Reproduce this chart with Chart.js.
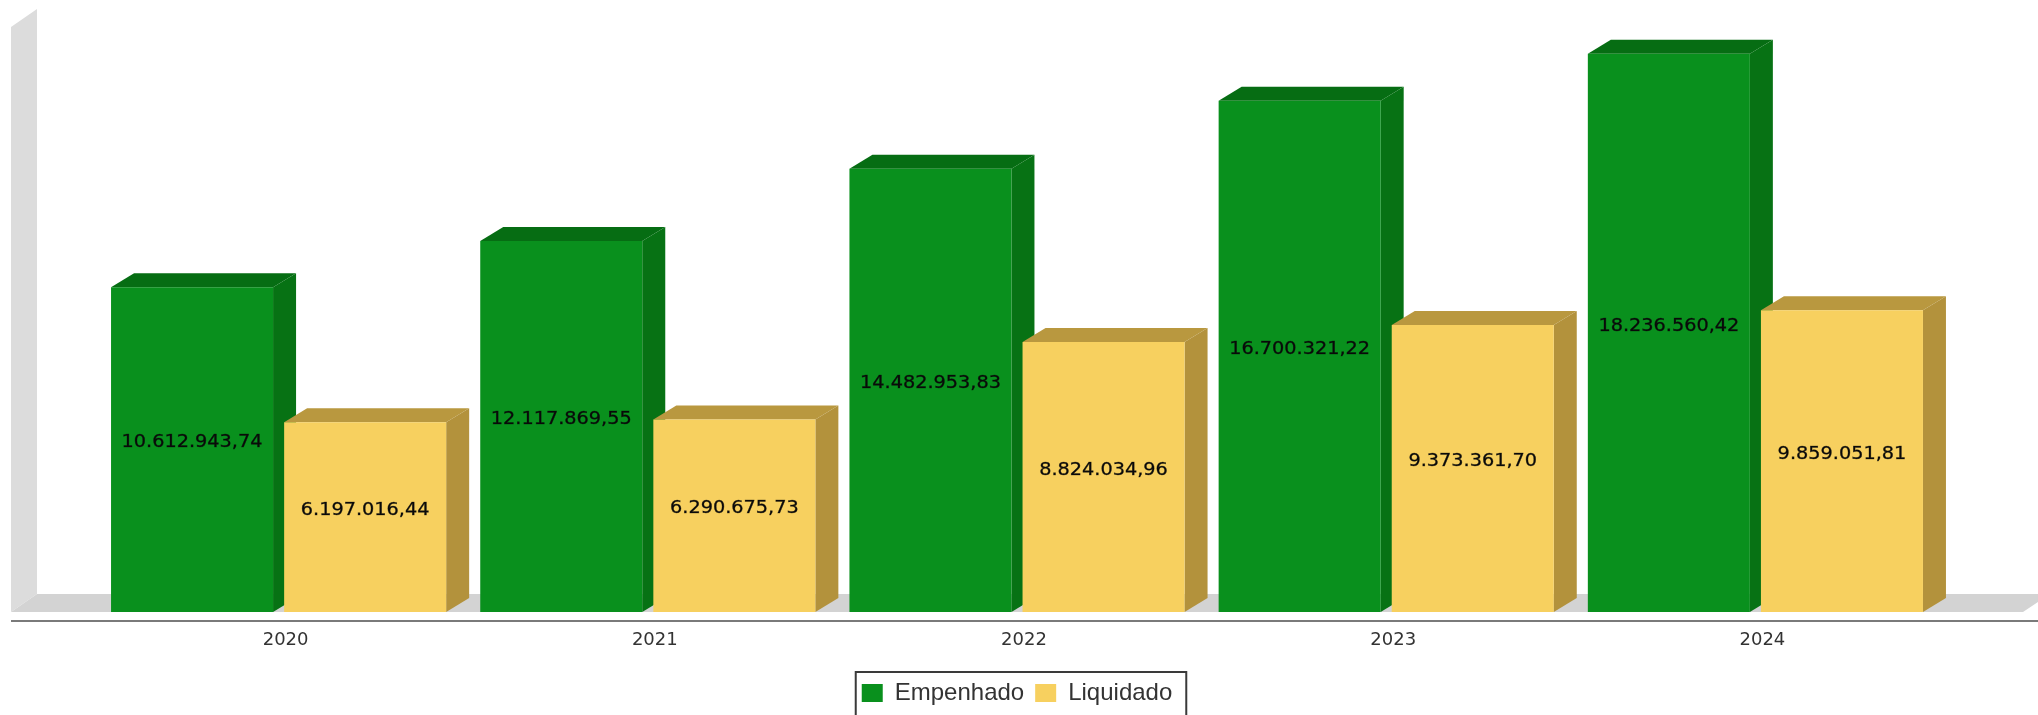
<!DOCTYPE html>
<html>
<head>
<meta charset="utf-8">
<script src="https://cdn.jsdelivr.net/npm/chart.js@4.4.1/dist/chart.umd.min.js"></script>
<style>
  html, body { margin: 0; padding: 0; background: #fff; }
  #wrap { width: 2038px; height: 715px; }
</style>
</head>
<body>
<div id="wrap"><canvas id="chart"></canvas></div>
<script>
const years = ['2020', '2021', '2022', '2023', '2024'];
const empenhado = [10612943.74, 12117869.55, 14482953.83, 16700321.22, 18236560.42];
const liquidado = [6197016.44, 6290675.73, 8824034.96, 9373361.70, 9859051.81];
const seriesNames = ['Empenhado', 'Liquidado'];
const yMax = 19800000;

// front / top / side shades for each series
const shades = [
  { front: '#09901d', top: '#066d13', side: '#077214' },
  { front: '#f7d05f', top: '#b9983f', side: '#b3923c' }
];
const depthX = 23, depthY = 14;

function formatBR(v) {
  const [int, dec] = v.toFixed(2).split('.');
  return int.replace(/\B(?=(\d{3})+(?!\d))/g, '.') + ',' + dec;
}

// gray back wall, floor and base line
const stagePlugin = {
  id: 'stage',
  beforeDatasetsDraw(chart) {
    const ctx = chart.ctx;
    const base = chart.scales.y.getPixelForValue(0);
    const wallX = 11, wd = 26, fd = 18;
    ctx.save();
    ctx.fillStyle = '#dcdcdc';
    ctx.beginPath();
    ctx.moveTo(wallX, base);
    ctx.lineTo(wallX, 27);
    ctx.lineTo(wallX + wd, 9);
    ctx.lineTo(wallX + wd, base - fd);
    ctx.closePath();
    ctx.fill();

    ctx.fillStyle = '#d3d3d3';
    ctx.beginPath();
    ctx.moveTo(wallX, base);
    ctx.lineTo(wallX + wd, base - fd);
    ctx.lineTo(chart.width + 12, base - fd);
    ctx.lineTo(chart.width - 15, base);
    ctx.closePath();
    ctx.fill();

    ctx.fillStyle = '#7a7a7a';
    ctx.fillRect(wallX, base + 8, chart.width - wallX, 2);

    // depth faces of every bar, drawn before the front faces
    chart.data.datasets.forEach((ds, i) => {
      const meta = chart.getDatasetMeta(i);
      const c = shades[i];
      meta.data.forEach(bar => {
        const left = bar.x - bar.width / 2;
        const right = bar.x + bar.width / 2;
        ctx.fillStyle = c.top;
        ctx.beginPath();
        ctx.moveTo(left, bar.y);
        ctx.lineTo(left + depthX, bar.y - depthY);
        ctx.lineTo(right + depthX, bar.y - depthY);
        ctx.lineTo(right, bar.y);
        ctx.closePath();
        ctx.fill();
        ctx.fillStyle = c.side;
        ctx.beginPath();
        ctx.moveTo(right, bar.y);
        ctx.lineTo(right + depthX, bar.y - depthY);
        ctx.lineTo(right + depthX, bar.base - depthY);
        ctx.lineTo(right, bar.base);
        ctx.closePath();
        ctx.fill();
      });
    });
    ctx.restore();
  },
  afterDatasetsDraw(chart) {
    const ctx = chart.ctx;
    chart.data.datasets.forEach((ds, i) => {
      chart.getDatasetMeta(i).data.forEach((bar, j) => {
        const cy = (bar.y - depthY + bar.base) / 2;
        const text = formatBR(ds.data[j]);
        ctx.save();
        ctx.font = '18px "DejaVu Sans"';
        ctx.fillStyle = '#0a0a0a';
        ctx.strokeStyle = 'rgba(10,10,10,0.6)';
        ctx.lineWidth = 0.5;
        ctx.textAlign = 'center';
        ctx.textBaseline = 'middle';
        ctx.translate(bar.x, cy);
        ctx.scale(1.07, 1);
        ctx.fillText(text, 0, 0);
        ctx.strokeText(text, 0, 0);
        ctx.restore();
      });
    });
  },
  afterDraw(chart) {
    // frame around the legend
    const boxes = chart.legend.legendHitBoxes;
    if (!boxes || !boxes.length) return;
    const minL = Math.min(...boxes.map(b => b.left));
    const maxR = Math.max(...boxes.map(b => b.left + b.width));
    const top = boxes[0].top;
    const ctx = chart.ctx;
    ctx.save();
    ctx.strokeStyle = '#3a3a3a';
    ctx.lineWidth = 2;
    ctx.strokeRect(minL - 6, top - 9, maxR - minL + 20, chart.height);
    ctx.restore();
  }
};

new Chart(document.getElementById('chart'), {
  type: 'bar',
  data: {
    labels: years,
    datasets: [
      {
        label: seriesNames[0],
        data: empenhado,
        backgroundColor: shades[0].front,
        borderWidth: 0,
        categoryPercentage: 0.9377,
        barPercentage: 0.936
      },
      {
        label: seriesNames[1],
        data: liquidado,
        backgroundColor: shades[1].front,
        borderWidth: 0,
        categoryPercentage: 0.9377,
        barPercentage: 0.936
      }
    ]
  },
  options: {
    responsive: true,
    maintainAspectRatio: false,
    animation: false,
    layout: { padding: { left: 94, right: 98, top: 6, bottom: 0 } },
    plugins: {
      tooltip: { enabled: false },
      legend: {
        position: 'bottom',
        labels: {
          boxWidth: 21,
          boxHeight: 18,
          padding: 11,
          color: '#333',
          font: { family: '"Liberation Sans"', size: 24 }
        }
      }
    },
    scales: {
      x: {
        grid: { display: false, drawTicks: false },
        border: { display: false },
        ticks: {
          color: '#333',
          padding: 18,
          labelOffset: 7,
          font: { family: '"DejaVu Sans"', size: 18 }
        },
        afterFit(scale) { scale.height = 58; }
      },
      y: {
        display: false,
        min: 0,
        max: yMax
      }
    }
  },
  plugins: [stagePlugin]
});
</script>
</body>
</html>
